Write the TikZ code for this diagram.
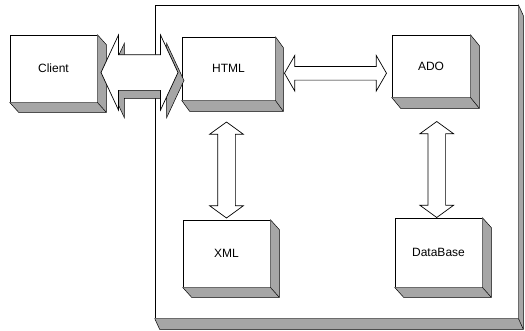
\documentclass[tikz,border=0pt]{standalone}
\usepackage{fontspec}
\setmainfont{Liberation Sans}
\usetikzlibrary{calc,shapes.arrows,shadows}

\begin{document}
\begin{tikzpicture}[x=1pt,y=-1pt,line width=0.7pt,
		blk/.style={draw,fill=white,inner sep=0pt,font=\fontsize{12}{14}\selectfont},
		flank/.style={fill=gray!70},
		rim/.style={line width=0.5pt},
		link/.style={draw,fill=white,double arrow,inner xsep=0pt,minimum width=0pt}]
		\useasboundingbox (0,0) rectangle (525,330);
		% server frame
		\node[blk,minimum width=363pt,minimum height=313pt] (server) at (336.5,161.5) {};
		% components
		\node[blk,minimum width=87pt,minimum height=67pt] (client) at (53.5,68.5) {Client};
		\node[blk,minimum width=93pt,minimum height=63pt] (html) at (228.5,68.5) {HTML};
		\node[blk,minimum width=78pt,minimum height=62pt] (ado) at (431,66) {ADO};
		\node[blk,minimum width=87pt,minimum height=67pt] (xml) at (226.5,253.5) {XML};
		\node[blk,minimum width=87pt,minimum height=69pt] (db) at (438.5,252.5) {DataBase};
		% 3d sides
		\foreach \n/\ox/\oy in {server/5/11,client/9/10,html/8/11,ado/9/11,xml/9/10,db/9/10}{
			\fill[flank] (\n.north east) -- ($(\n.north east)+(\ox,\oy)$) -- ($(\n.south east)+(\ox,\oy)$)
				-- ($(\n.south west)+(\ox,\oy)$) -- (\n.south west) -- (\n.south east) -- cycle;
			\draw[rim] (\n.north east) -- ($(\n.north east)+(\ox,\oy)$) -- ($(\n.south east)+(\ox,\oy)$)
				-- ($(\n.south west)+(\ox,\oy)$) -- (\n.south west);
			\draw[rim] (\n.south east) -- ($(\n.south east)+(\ox,\oy)$);
		}
		% arrows
		\node[link,inner ysep=17.5pt,minimum height=77pt,double arrow head extend=19.5pt,
			double arrow tip angle=130,
			drop shadow={shadow xshift=6pt,shadow yshift=-8pt,fill=gray!70,opacity=1,draw=black,line width=0.5pt}]
			(web) at ($(client.east)!0.5!(html.west)+(0,4)$) {};
		\node[link,inner ysep=6.5pt,minimum height=102pt,double arrow head extend=11pt,
			double arrow tip angle=120] (h2a) at ($(html.east)!0.5!(ado.west)+(2,6)$) {};
		\node[link,rotate=90,inner ysep=8.5pt,minimum height=96pt,double arrow head extend=8pt,
			double arrow tip angle=108] (h2x) at ($(html.south)!0.5!(xml.north)+(-1,10)$) {};
		\node[link,rotate=90,inner ysep=8.5pt,minimum height=96pt,double arrow head extend=8pt,
			double arrow tip angle=108] (a2d) at ($(ado.south)!0.5!(db.north)+(2,12)$) {};
	\end{tikzpicture}
\end{document}
